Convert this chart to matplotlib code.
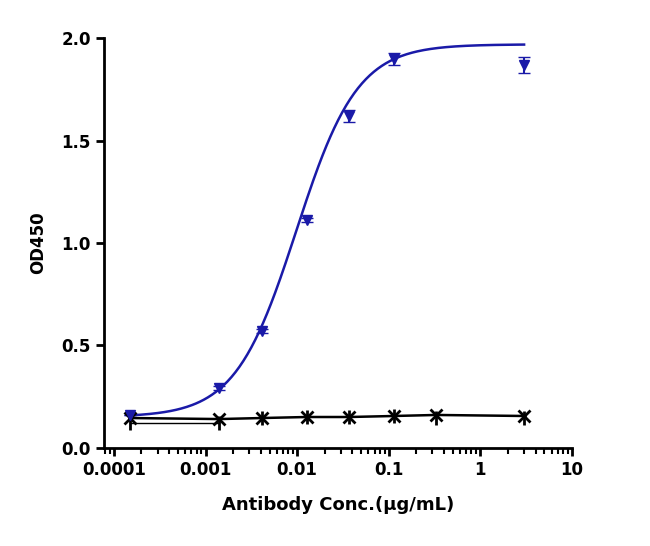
import numpy as np
import matplotlib.pyplot as plt

conc = [0.00015, 0.00141, 0.0041, 0.0127, 0.037, 0.114, 0.33, 3.0]
od_blue = [0.16, 0.29, 0.57, 1.11, 1.62, 1.90, None, 1.87]
err_blue = [0.0, 0.01, 0.01, 0.01, 0.03, 0.03, 0.0, 0.04]
od_ctrl = [0.145, 0.14, 0.145, 0.15, 0.15, 0.155, 0.16, 0.155]
od_ctrl2 = [0.12, 0.12, 0.145, 0.15, 0.15, 0.155, 0.145, 0.145]

# 4PL fit parameters for the blue curve
bottom, top, ec50, hill = 0.15, 1.97, 0.0098, 1.3

fig, ax = plt.subplots(figsize=(6.5, 5.46), dpi=100)
fig.subplots_adjust(left=0.16, right=0.88, top=0.93, bottom=0.18)

bx = [c for c, v in zip(conc, od_blue) if v is not None]
by = [v for v in od_blue if v is not None]
be = [e for e, v in zip(err_blue, od_blue) if v is not None]
ax.errorbar(bx, by, yerr=be, fmt='v', color='#1a1aa8', ms=7, capsize=4, lw=1.5)
xs = np.logspace(np.log10(0.00015), np.log10(3), 300)
ax.plot(xs, bottom + (top - bottom) / (1 + (ec50 / xs) ** hill), color='#1a1aa8', lw=1.8)

ax.plot(conc, od_ctrl, 'x-', color='black', ms=8, mew=2, lw=1.8)
ax.plot(conc, od_ctrl2, '|', color='black', ms=10, mew=2)
ax.plot(conc[:2], od_ctrl2[:2], color='black', lw=1)

ax.set_xscale('log')
ax.set_xlim(0.000078, 10)
ax.set_ylim(0, 2.0)
ax.set_xticks([0.0001, 0.001, 0.01, 0.1, 1, 10])
ax.set_xticklabels(['0.0001', '0.001', '0.01', '0.1', '1', '10'])
ax.set_yticks([0, 0.5, 1.0, 1.5, 2.0])
ax.set_yticklabels(['0.0', '0.5', '1.0', '1.5', '2.0'])
for s in ['top', 'right']:
    ax.spines[s].set_visible(False)
for s in ['left', 'bottom']:
    ax.spines[s].set_linewidth(2)
ax.tick_params(width=2, length=6, labelsize=12)
ax.tick_params(which='minor', width=1.5, length=4)
for lab in ax.get_xticklabels() + ax.get_yticklabels():
    lab.set_fontweight('bold')
ax.set_xlabel('Antibody Conc.(μg/mL)', fontsize=13, fontweight='bold', labelpad=12)
ax.set_ylabel('OD450', fontsize=12, fontweight='bold', labelpad=10)

fig.savefig('out.png')
